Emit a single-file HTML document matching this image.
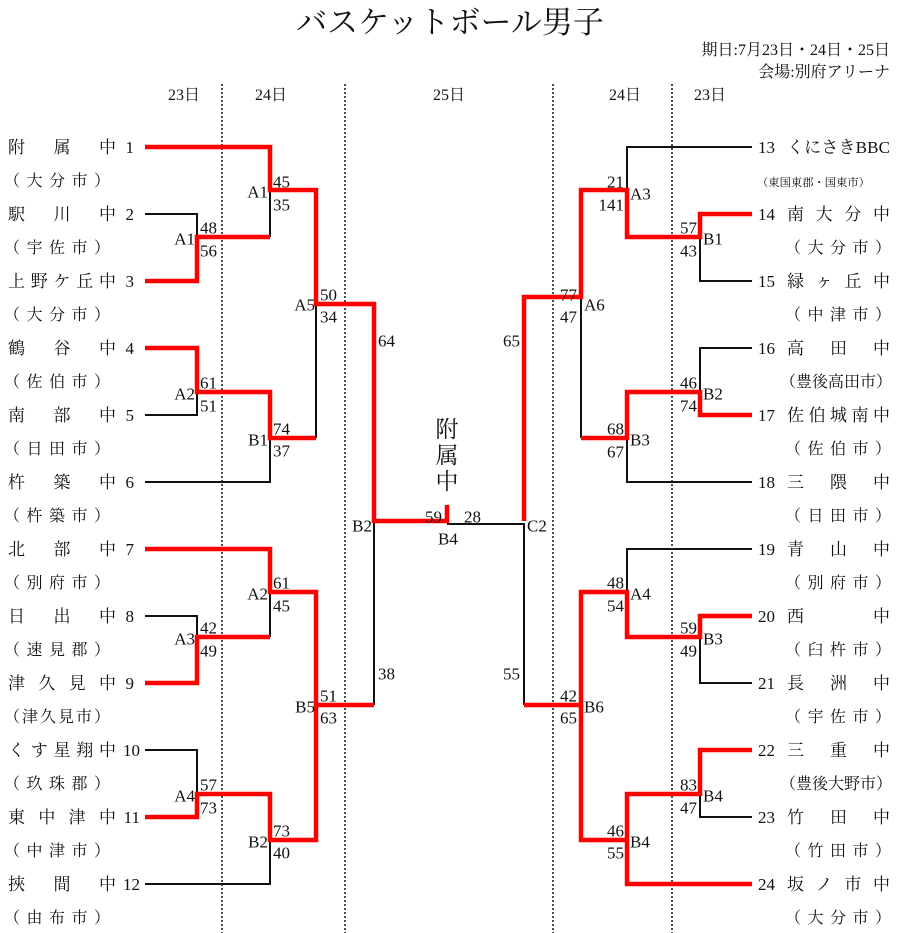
<!DOCTYPE html>
<html><head><meta charset="utf-8"><style>
html,body{margin:0;padding:0;background:#fff;}
svg{display:block;font-family:"Liberation Serif","Noto Serif CJK JP",serif;}
</style></head><body>
<svg width="900" height="933" viewBox="0 0 900 933" xmlns="http://www.w3.org/2000/svg">
<g fill="#111">
<text x="450" y="33" font-size="31" text-anchor="middle">バスケットボール男子</text>
<text x="890" y="55" font-size="16" text-anchor="end">期日:7月23日・24日・25日</text>
<text x="890" y="77" font-size="16" text-anchor="end">会場:別府アリーナ</text>
<g font-size="16" text-anchor="middle">
<text x="184" y="100">23日</text><text x="271" y="100">24日</text><text x="449" y="100">25日</text><text x="625" y="100">24日</text><text x="710" y="100">23日</text>
</g>
</g>
<g stroke="#111" stroke-width="1.5" stroke-dasharray="2,2">
<line x1="222" y1="84" x2="222" y2="933"/><line x1="345" y1="84" x2="345" y2="933"/>
<line x1="553" y1="84" x2="553" y2="933"/><line x1="672" y1="84" x2="672" y2="933"/>
</g>
<g stroke="#111" stroke-width="2" fill="none">
<path d="M145 214H197V237M270 190V237M145 415H197V392M316 304V438M145 482H270V438"/>
<path d="M374 521V705M145 616H197V637M270 592V637M145 750H197V794M145 884H270V840"/>
<path d="M752 147H627V190M752 281H700V237M752 348H700V392M581 297V438M752 482H627V438"/>
<path d="M447 524H524V705M752 549H627V592M752 683H700V637M752 817H700V794"/>
</g>
<g stroke="#f00" stroke-width="4.5" fill="none" stroke-linejoin="miter">
<path d="M145 147H270V190H316V304H374V521H447V505"/>
<path d="M145 281H197V237H270"/>
<path d="M145 348H197V392H270V438H316"/>
<path d="M145 549H270V592H316V705H374"/>
<path d="M145 683H197V637H270"/>
<path d="M145 817H197V794H270V840H316V705"/>
<path d="M752 214H700V237H627V190H581V297H524V521"/>
<path d="M752 415H700V392H627V438H581"/>
<path d="M752 616H700V637H627V592H581V705H524"/>
<path d="M752 750H700V794H627V884H752M627 840H581V705"/>
</g>
<g fill="#111" font-size="17">
<text x="8" y="153" textLength="108" lengthAdjust="spacing">附属中</text>
<text x="8" y="220" textLength="108" lengthAdjust="spacing">駅川中</text>
<text x="8" y="287" textLength="108" lengthAdjust="spacing">上野ケ丘中</text>
<text x="8" y="354" textLength="108" lengthAdjust="spacing">鶴谷中</text>
<text x="8" y="421" textLength="108" lengthAdjust="spacing">南部中</text>
<text x="8" y="488" textLength="108" lengthAdjust="spacing">杵築中</text>
<text x="8" y="555" textLength="108" lengthAdjust="spacing">北部中</text>
<text x="8" y="622" textLength="108" lengthAdjust="spacing">日出中</text>
<text x="8" y="689" textLength="108" lengthAdjust="spacing">津久見中</text>
<text x="8" y="756" textLength="108" lengthAdjust="spacing">くす星翔中</text>
<text x="8" y="823" textLength="108" lengthAdjust="spacing">東中津中</text>
<text x="8" y="890" textLength="108" lengthAdjust="spacing">挾間中</text>
</g>
<g fill="#111" font-size="16">
<text x="4" y="186" textLength="106" lengthAdjust="spacing">（大分市）</text>
<text x="4" y="253" textLength="106" lengthAdjust="spacing">（宇佐市）</text>
<text x="4" y="320" textLength="106" lengthAdjust="spacing">（大分市）</text>
<text x="4" y="387" textLength="106" lengthAdjust="spacing">（佐伯市）</text>
<text x="4" y="454" textLength="106" lengthAdjust="spacing">（日田市）</text>
<text x="4" y="521" textLength="106" lengthAdjust="spacing">（杵築市）</text>
<text x="4" y="588" textLength="106" lengthAdjust="spacing">（別府市）</text>
<text x="4" y="655" textLength="106" lengthAdjust="spacing">（速見郡）</text>
<text x="4" y="722" textLength="106" lengthAdjust="spacing">（津久見市）</text>
<text x="4" y="789" textLength="106" lengthAdjust="spacing">（玖珠郡）</text>
<text x="4" y="856" textLength="106" lengthAdjust="spacing">（中津市）</text>
<text x="4" y="923" textLength="106" lengthAdjust="spacing">（由布市）</text>
</g>
<g fill="#111" font-size="17" text-anchor="end">
<text x="134" y="153">1</text><text x="134" y="220">2</text><text x="134" y="287">3</text><text x="134" y="354">4</text><text x="134" y="421">5</text><text x="134" y="488">6</text>
<text x="134" y="555">7</text><text x="134" y="622">8</text><text x="134" y="689">9</text><text x="140" y="756">10</text><text x="140" y="823">11</text><text x="140" y="890">12</text>
</g>
<g fill="#111" font-size="17">
<text x="758" y="153">13</text><text x="758" y="220">14</text><text x="758" y="287">15</text><text x="758" y="354">16</text><text x="758" y="421">17</text><text x="758" y="488">18</text>
<text x="758" y="555">19</text><text x="758" y="622">20</text><text x="758" y="689">21</text><text x="758" y="756">22</text><text x="758" y="823">23</text><text x="758" y="890">24</text>
</g>
<g fill="#111" font-size="17">
<text x="787" y="153" textLength="103" lengthAdjust="spacing">くにさきBBC</text>
<text x="787" y="220" textLength="103" lengthAdjust="spacing">南大分中</text>
<text x="787" y="287" textLength="103" lengthAdjust="spacing">緑ヶ丘中</text>
<text x="787" y="354" textLength="103" lengthAdjust="spacing">高田中</text>
<text x="787" y="421" textLength="103" lengthAdjust="spacing">佐伯城南中</text>
<text x="787" y="488" textLength="103" lengthAdjust="spacing">三隈中</text>
<text x="787" y="555" textLength="103" lengthAdjust="spacing">青山中</text>
<text x="787" y="622" textLength="103" lengthAdjust="spacing">西中</text>
<text x="787" y="689" textLength="103" lengthAdjust="spacing">長洲中</text>
<text x="787" y="756" textLength="103" lengthAdjust="spacing">三重中</text>
<text x="787" y="823" textLength="103" lengthAdjust="spacing">竹田中</text>
<text x="787" y="890" textLength="103" lengthAdjust="spacing">坂ノ市中</text>
</g>
<g fill="#111" font-size="16">
<text x="757" y="186" font-size="11" textLength="113" lengthAdjust="spacingAndGlyphs">（東国東郡・国東市）</text>
<text x="785" y="253" textLength="106" lengthAdjust="spacing">（大分市）</text>
<text x="785" y="320" textLength="106" lengthAdjust="spacing">（中津市）</text>
<text x="780" y="387" textLength="112" lengthAdjust="spacingAndGlyphs">（豊後高田市）</text>
<text x="785" y="454" textLength="106" lengthAdjust="spacing">（佐伯市）</text>
<text x="785" y="521" textLength="106" lengthAdjust="spacing">（日田市）</text>
<text x="785" y="588" textLength="106" lengthAdjust="spacing">（別府市）</text>
<text x="785" y="655" textLength="106" lengthAdjust="spacing">（臼杵市）</text>
<text x="785" y="722" textLength="106" lengthAdjust="spacing">（宇佐市）</text>
<text x="780" y="789" textLength="112" lengthAdjust="spacingAndGlyphs">（豊後大野市）</text>
<text x="785" y="856" textLength="106" lengthAdjust="spacing">（竹田市）</text>
<text x="785" y="923" textLength="106" lengthAdjust="spacing">（大分市）</text>
</g>
<g transform="translate(0,1.5)">
<g fill="#111" font-size="17">
<text x="273" y="186">45</text><text x="273" y="209">35</text>
<text x="200" y="232">48</text><text x="200" y="255">56</text>
<text x="320" y="299">50</text><text x="320" y="321">34</text><text x="378" y="345">64</text>
<text x="200" y="387">61</text><text x="200" y="410">51</text>
<text x="273" y="433">74</text><text x="273" y="455">37</text>
<text x="273" y="587">61</text><text x="273" y="610">45</text>
<text x="200" y="632">42</text><text x="200" y="655">49</text>
<text x="320" y="700">51</text><text x="320" y="722">63</text><text x="378" y="678">38</text>
<text x="200" y="789">57</text><text x="200" y="812">73</text>
<text x="273" y="835">73</text><text x="273" y="857">40</text>
<text x="425" y="521">59</text><text x="464" y="521">28</text>
<text x="438" y="543">B4</text>
</g>
<g fill="#111" font-size="17" text-anchor="end">
<text x="268" y="196">A1</text><text x="195" y="243">A1</text><text x="315" y="309">A5</text>
<text x="195" y="398">A2</text><text x="268" y="444">B1</text><text x="372" y="530">B2</text>
<text x="268" y="598">A2</text><text x="195" y="643">A3</text><text x="315" y="711">B5</text>
<text x="195" y="800">A4</text><text x="268" y="846">B2</text>
<text x="624" y="186">21</text><text x="624" y="209">141</text>
<text x="697" y="232">57</text><text x="697" y="255">43</text>
<text x="577" y="299">77</text><text x="577" y="321">47</text><text x="520" y="345">65</text>
<text x="697" y="387">46</text><text x="697" y="410">74</text>
<text x="624" y="433">68</text><text x="624" y="456">67</text>
<text x="624" y="587">48</text><text x="624" y="610">54</text>
<text x="697" y="632">59</text><text x="697" y="655">49</text>
<text x="577" y="700">42</text><text x="577" y="722">65</text><text x="520" y="678">55</text>
<text x="697" y="789">83</text><text x="697" y="812">47</text>
<text x="624" y="835">46</text><text x="624" y="857">55</text>
</g>
<g fill="#111" font-size="17">
<text x="630" y="198">A3</text><text x="703" y="243">B1</text><text x="584" y="309">A6</text>
<text x="703" y="398">B2</text><text x="630" y="444">B3</text><text x="527" y="530">C2</text>
<text x="630" y="598">A4</text><text x="703" y="643">B3</text><text x="584" y="711">B6</text>
<text x="703" y="800">B4</text><text x="630" y="846">B4</text>
</g>
</g>
<g fill="#111" font-size="23" text-anchor="middle">
<text x="447" y="437">附</text><text x="447" y="463">属</text><text x="447" y="489">中</text>
</g>
</svg>
</body></html>
